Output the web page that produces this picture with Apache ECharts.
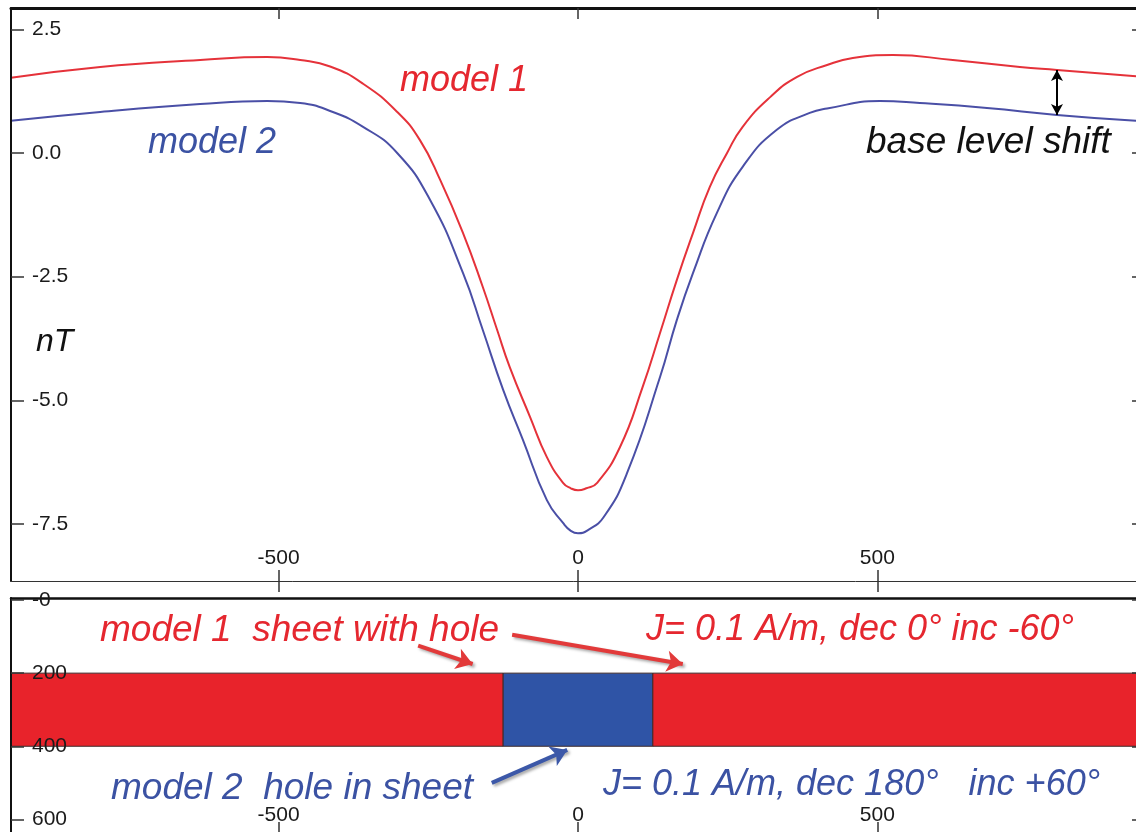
<!DOCTYPE html>
<html>
<head>
<meta charset="utf-8">
<title>Sheet with hole – magnetic profile</title>
<script src="https://cdn.jsdelivr.net/npm/echarts@6/dist/echarts.min.js"></script>
<style>
  html, body { margin: 0; padding: 0; background: #ffffff; }
  #chart { width: 1136px; height: 832px; }
</style>
</head>
<body>
<div id="chart"></div>
<script>
// Total-field anomaly along the profile: [position (m), anomaly (nT)]
const model1Profile = [
  [-947, 1.52], [-798, 1.74], [-631, 1.88], [-519, 1.94], [-464, 1.88], [-414, 1.75],
  [-359, 1.40], [-302, 0.83], [-264, 0.26], [-230, -0.55], [-192, -1.62], [-159, -2.71],
  [-135, -3.58], [-114, -4.33], [-80, -5.34], [-52, -6.15], [-25, -6.67], [-12, -6.78],
  [0, -6.82], [14, -6.78], [32, -6.67], [70, -5.95], [108, -4.73], [137, -3.64], [165, -2.57],
  [192, -1.62], [220, -0.69], [249, 0.00], [275, 0.53], [321, 1.13], [366, 1.54], [416, 1.78],
  [459, 1.92], [526, 1.98], [626, 1.88], [738, 1.74], [800, 1.68], [932, 1.55]
];
const model2Profile = [
  [-947, 0.65], [-798, 0.83], [-631, 0.99], [-519, 1.05], [-464, 1.01], [-414, 0.85],
  [-359, 0.53], [-302, 0.00], [-247, -0.95], [-192, -2.43], [-159, -3.58], [-125, -4.79],
  [-92, -5.80], [-52, -7.02], [-25, -7.48], [-12, -7.64], [0, -7.69], [16, -7.63],
  [43, -7.36], [82, -6.47], [137, -4.53], [165, -3.38], [192, -2.43], [232, -1.21],
  [275, -0.28], [332, 0.47], [387, 0.81], [416, 0.90], [504, 1.05], [571, 1.01],
  [683, 0.91], [800, 0.77], [932, 0.65]
];

// Tick values and labels
const profileTicks = [-500, 0, 500];
const anomalyTicks = [-7.5, -5, -2.5, 0, 2.5];
const depthTicks = [0, 200, 400, 600];
const depthTickLabels = ['-0', '200', '400', '600'];

// Body geometry (m): a magnetised sheet with a hole
const sheetTop = 200;
const sheetBase = 400;
const holeLeft = -125;
const holeRight = 125;
const shiftAt = 800;   // where the base-level shift is marked

const RED = '#e8232b';
const BLUE = '#2f54a6';
const RED_TEXT = '#e5272f';
const BLUE_TEXT = '#3b52a3';
const FONT = '"Liberation Sans", Arial, sans-serif';

const xMin = -947, xMax = 947;

const sheetBlocks = [
  [-1200, holeLeft, sheetTop, sheetBase, 0],
  [holeLeft, holeRight, sheetTop, sheetBase, 1],
  [holeRight, 1200, sheetTop, sheetBase, 0]
];

function valueAt(profile, x) {
  const p = profile.find(d => d[0] === x);
  return p ? p[1] : null;
}

const tickLabelStyle = { color: '#1a1a1a', fontSize: 21, fontFamily: FONT };
const tickLine = { color: '#333', width: 1.5 };

function frameLine(width) {
  return { show: true, onZero: false, lineStyle: { color: '#111', width: width } };
}

function note(text, x, y, size, color) {
  return {
    type: 'text', x: x, y: y,
    style: { text: text, font: 'italic ' + size + 'px ' + FONT, fill: color, textAlign: 'left', textVerticalAlign: 'middle' }
  };
}

const chart = echarts.init(document.getElementById('chart'), null, { renderer: 'canvas' });

const arrowShadow = { shadowBlur: 3, shadowColor: 'rgba(0,0,0,0.35)', shadowOffsetX: 2, shadowOffsetY: 2 };

const option = {
  animation: false,
  backgroundColor: '#ffffff',
  grid: [
    { left: 11, top: 8, width: 1134, height: 573, outerBoundsMode: 'none' },
    { left: 11, top: 598, width: 1134, height: 236, outerBoundsMode: 'none' }
  ],
  xAxis: [
    { // profile axis, bottom of upper panel
      type: 'value', gridIndex: 0, position: 'bottom', min: xMin, max: xMax, z: 6,
      splitLine: { show: false },
      axisLine: { show: true, onZero: false, lineStyle: { color: '#333', width: 1 } },
      axisTick: { inside: true, length: 11, customValues: profileTicks, lineStyle: tickLine },
      axisLabel: Object.assign({ inside: true, margin: 12, customValues: profileTicks }, tickLabelStyle)
    },
    { // frame top
      type: 'value', gridIndex: 0, position: 'top', min: xMin, max: xMax, z: 6,
      splitLine: { show: false },
      axisLine: frameLine(3),
      axisTick: { inside: true, length: 11, customValues: profileTicks, lineStyle: tickLine },
      axisLabel: { show: false }
    },
    { // outward ticks below upper panel
      type: 'value', gridIndex: 0, position: 'bottom', min: xMin, max: xMax, z: 6,
      splitLine: { show: false },
      axisLine: { show: false, onZero: false },
      axisTick: { inside: false, length: 11, customValues: profileTicks, lineStyle: tickLine },
      axisLabel: { show: false }
    },
    { // top of section panel
      type: 'value', gridIndex: 1, position: 'top', min: xMin, max: xMax, z: 6,
      splitLine: { show: false },
      axisLine: frameLine(2.5),
      axisTick: { show: false },
      axisLabel: { show: false }
    },
    { // bottom of section panel
      type: 'value', gridIndex: 1, position: 'bottom', min: xMin, max: xMax, z: 6,
      splitLine: { show: false },
      axisLine: frameLine(2),
      axisTick: { inside: true, length: 12, customValues: profileTicks, lineStyle: tickLine },
      axisLabel: Object.assign({ inside: true, margin: 8, customValues: profileTicks }, tickLabelStyle)
    }
  ],
  yAxis: [
    { // anomaly (nT)
      type: 'value', gridIndex: 0, position: 'left', min: -8.655, max: 2.932, z: 6,
      splitLine: { show: false },
      axisLine: frameLine(2),
      axisTick: { show: true, inside: true, length: 13, customValues: anomalyTicks, lineStyle: tickLine },
      axisLabel: Object.assign({
        inside: true, margin: 21, customValues: anomalyTicks,
        formatter: v => Number(v).toFixed(1)
      }, tickLabelStyle)
    },
    {
      type: 'value', gridIndex: 0, position: 'right', min: -8.655, max: 2.932, z: 6,
      splitLine: { show: false },
      axisLine: frameLine(2),
      axisTick: { show: true, inside: true, length: 13, customValues: anomalyTicks, lineStyle: tickLine },
      axisLabel: { show: false }
    },
    { // depth (m)
      type: 'value', gridIndex: 1, position: 'left', inverse: true, min: -5.5, max: 640, z: 6,
      splitLine: { show: false },
      axisLine: frameLine(2),
      axisTick: { show: true, inside: true, length: 13, customValues: depthTicks, lineStyle: tickLine },
      axisLabel: Object.assign({
        inside: true, margin: 21, customValues: depthTicks,
        formatter: v => depthTickLabels[depthTicks.indexOf(Number(v))]
      }, tickLabelStyle)
    },
    {
      type: 'value', gridIndex: 1, position: 'right', inverse: true, min: -5.5, max: 640, z: 6,
      splitLine: { show: false },
      axisLine: frameLine(2),
      axisTick: { show: true, inside: true, length: 13, customValues: depthTicks, lineStyle: tickLine },
      axisLabel: { show: false }
    }
  ],
  series: [
    {
      name: 'model 1', type: 'line', xAxisIndex: 0, yAxisIndex: 0,
      data: model1Profile, showSymbol: false, smooth: 0.5,
      lineStyle: { color: '#e5323a', width: 2 }, z: 3
    },
    {
      name: 'model 2', type: 'line', xAxisIndex: 0, yAxisIndex: 0,
      data: model2Profile, showSymbol: false, smooth: 0.5,
      lineStyle: { color: '#4a4fa6', width: 2 }, z: 3,
      markLine: {
        silent: true, animation: false,
        symbol: ['arrow', 'arrow'], symbolSize: [9, 11],
        label: { show: false },
        lineStyle: { color: '#000', width: 2, type: 'solid' },
        data: [[
          { coord: [shiftAt, valueAt(model1Profile, shiftAt)] },
          { coord: [shiftAt, valueAt(model2Profile, shiftAt)] }
        ]]
      }
    },
    {
      name: 'bodies', type: 'custom', xAxisIndex: 4, yAxisIndex: 2,
      encode: { x: [0, 1], y: [2, 3] },
      data: sheetBlocks,
      renderItem: function (params, api) {
        const p0 = api.coord([api.value(0), api.value(2)]);
        const p1 = api.coord([api.value(1), api.value(3)]);
        const rect = echarts.graphic.clipRectByRect({
          x: Math.min(p0[0], p1[0]), y: Math.min(p0[1], p1[1]),
          width: Math.abs(p1[0] - p0[0]), height: Math.abs(p1[1] - p0[1])
        }, {
          x: params.coordSys.x, y: params.coordSys.y,
          width: params.coordSys.width, height: params.coordSys.height
        });
        if (!rect) return null;
        return {
          type: 'rect', shape: rect,
          style: { fill: api.value(4) === 1 ? BLUE : RED, stroke: '#3e2a2a', lineWidth: 1 }
        };
      },
      z: 2
    },
    {
      name: 'pointers', type: 'line', xAxisIndex: 4, yAxisIndex: 2, data: [],
      markLine: {
        silent: true, animation: false,
        symbol: ['none', 'arrow'], symbolSize: 16,
        label: { show: false },
        data: [
          [{ coord: [-267, 125], lineStyle: Object.assign({ color: '#e23a3a', width: 4, type: 'solid' }, arrowShadow) },
           { coord: [-176, 175] }],
          [{ coord: [-110, 95], lineStyle: Object.assign({ color: '#e23a3a', width: 4, type: 'solid' }, arrowShadow) },
           { coord: [175, 175] }],
          [{ coord: [-144, 500], lineStyle: Object.assign({ color: '#3c58a8', width: 4, type: 'solid' }, arrowShadow) },
           { coord: [-18, 410] }]
        ]
      },
      z: 4
    }
  ],
  graphic: [
    note('model 1', 400, 81, 36, RED_TEXT),
    note('model 2', 148, 143, 36, BLUE_TEXT),
    note('base level shift', 866, 143, 37, '#111'),
    note('nT', 36, 342, 32, '#111'),
    note('model 1  sheet with hole', 100, 631, 37, RED_TEXT),
    note('J= 0.1 A/m, dec 0° inc -60°', 646, 630, 36, RED_TEXT),
    note('model 2  hole in sheet', 111, 789, 37, BLUE_TEXT),
    note('J= 0.1 A/m, dec 180°   inc +60°', 603, 785, 36, BLUE_TEXT)
  ]
};

chart.setOption(option);
</script>
</body>
</html>
